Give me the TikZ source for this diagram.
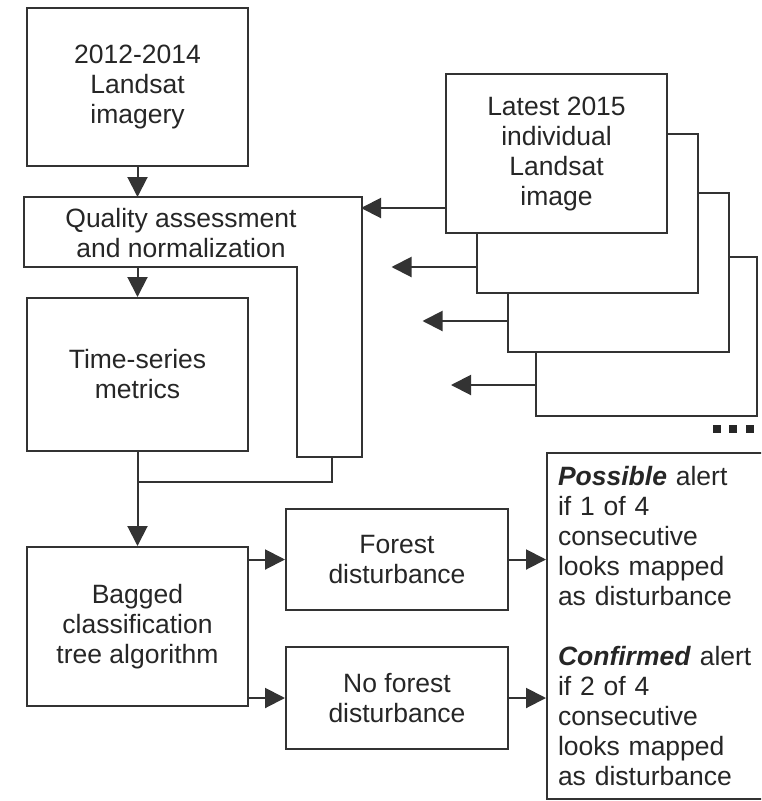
\documentclass[tikz,border=0pt]{standalone}
\usepackage{fontspec}
\setmainfont{Liberation Sans}
\usetikzlibrary{arrows.meta}

\begin{document}
\begin{tikzpicture}[x=1pt, y=-1pt,
		txt/.style={align=center, text=black!85, font=\fontsize{26.5}{30}\selectfont},
		box/.style={txt, draw=black!80, line width=2pt, fill=white, minimum width=221pt, minimum height=158pt, inner sep=0pt},
		wire/.style={draw=black!80, line width=2pt},
		arr/.style={wire, -{Triangle[length=20pt, width=20pt]}}]
				\useasboundingbox (0,0) rectangle (761,801);
				\clip (0,0) rectangle (761,801);

				% Left column
				\node[box] (img) at (137.5,87) {2012-2014\\Landsat\\imagery};
				\node[box, minimum height=153pt] (ts) at (137.5,374.5) {Time-series\\metrics};
				\node[box, minimum height=159pt] (bag) at (137.5,626.5) {Bagged\\classification\\tree algorithm};

				% Quality assessment (L shape)
				\coordinate (qa-nw) at (24,197);
				\coordinate (qa-se) at (362,457);
				\coordinate (qa-in) at (297,267);
				\coordinate (qa-out) at (332,457);
				\coordinate (join) at (137.5,482);
				\draw[wire] (qa-nw) -| (qa-se) -| (qa-in) -- (qa-nw |- qa-in) -- cycle;
				\node[txt] (qa) at (181,233) {Quality assessment\\and normalization};

				\draw[arr] (img) -- (img |- qa-nw);
				\draw[arr] (ts |- qa-in) -- (ts);
				\draw[arr] (ts) -- (bag);
				\draw[wire] (qa-out) |- (join);

				% Image stack
				\foreach \i/\x/\y in {4/646.5/336, 3/618/272, 2/587/213}
					\node[box, minimum height=159pt] (scene\i) at (\x,\y) {};
				\node[box, minimum height=159pt] (scene1) at (556.5,153.5) {Latest 2015\\individual\\Landsat\\image};
				\foreach \i/\dy in {1/54.5, 2/54, 3/49, 4/49} {
					\coordinate (in\i) at ([yshift=-\dy pt]scene\i.west);
					\coordinate (tip\i) at ([xshift=-84pt]in\i);
					\draw[arr] (in\i) -- (tip\i);
				}
				\foreach \i/\x in {1/716.5, 2/733, 3/749.5}
					\node[fill=black!85, minimum size=8pt, inner sep=0pt] (more\i) at (\x,429) {};

				% Outcomes
				\node[box, minimum width=222pt, minimum height=101pt] (fd) at (397,559.5) {Forest\\disturbance};
				\node[box, minimum width=222pt, minimum height=102pt] (nfd) at (397,698) {No forest\\disturbance};
				\draw[arr] (bag.east |- fd) -- (fd);
				\draw[arr] (bag.east |- nfd) -- (nfd);

				% Alerts
				\node[box, align=left, anchor=north west, minimum width=244pt, minimum height=346pt, text width=222pt, inner xsep=11pt] (alert) at (546,452)
					{\textbf{\textit{Possible}} alert\\if 1 of 4\\consecutive\\looks mapped\\as disturbance\\[30pt]
					\textbf{\textit{Confirmed}} alert\\if 2 of 4\\consecutive\\looks mapped\\as disturbance};
				\draw[arr] (fd) -- (fd -| alert.west);
				\draw[arr] (nfd) -- (nfd -| alert.west);
			\end{tikzpicture}
\end{document}
